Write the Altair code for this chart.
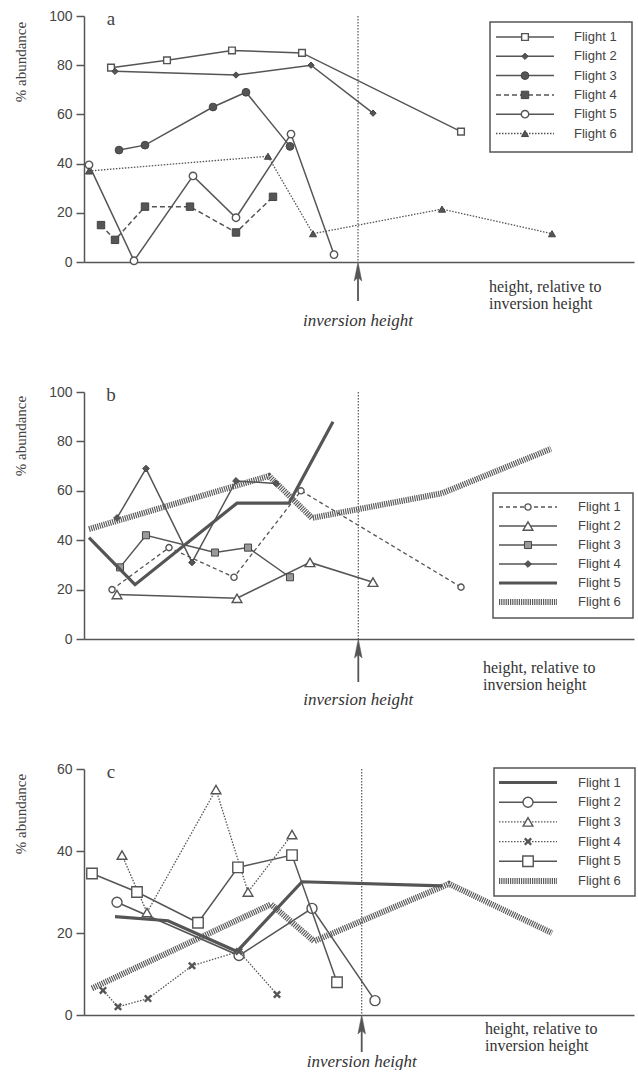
import altair as alt
import pandas as pd

# ---------------- data (x = position along height axis, y = % abundance) ----------------
# Panel a
A_F1_X = [27, 83, 148, 218, 377]
A_F1_Y = [79, 82, 86, 85, 53]
A_F2_X = [31, 152, 227, 289]
A_F2_Y = [77.5, 76, 80, 60.5]
A_F3_X = [35, 61, 129, 162, 206]
A_F3_Y = [45.5, 47.5, 63, 69, 47]
A_F4_X = [17, 31, 61, 106, 152, 189]
A_F4_Y = [15, 9, 22.5, 22.5, 12, 26.5]
A_F5_X = [5, 50, 109, 152, 207, 250]
A_F5_Y = [39.5, 0.5, 35, 18, 52, 3]
A_F6_X = [5, 184, 229, 358, 468]
A_F6_Y = [37, 43, 11.5, 21.5, 11.5]

# Panel b
B_F1_X = [28, 85, 150, 217, 377]
B_F1_Y = [20, 37, 25, 60, 21]
B_F2_X = [33, 153, 226, 289]
B_F2_Y = [18, 16.5, 31, 23]
B_F3_X = [36, 62, 131, 164, 206]
B_F3_Y = [29, 42, 35, 37, 25]
B_F4_X = [33, 62, 108, 152, 192]
B_F4_Y = [49, 69, 31, 64, 63]
B_F5_X = [5, 51, 153, 205, 249]
B_F5_Y = [41, 22, 55, 55, 88]
B_F6_X = [5, 185, 228, 358, 467]
B_F6_Y = [44.5, 66, 49, 59, 77]

# Panel c
C_F1_X = [31, 84, 153, 218, 358]
C_F1_Y = [24, 23, 15.5, 32.5, 31.5]
C_F2_X = [33, 155, 228, 291]
C_F2_Y = [27.5, 14.5, 26, 3.5]
C_F3_X = [38, 63, 132, 164, 208]
C_F3_Y = [39, 25, 55, 30, 44]
C_F4_X = [19, 34, 64, 108, 155, 193]
C_F4_Y = [6, 2, 4, 12, 15.5, 5]
C_F5_X = [8, 53, 114, 154, 208, 253]
C_F5_Y = [34.5, 30, 22.5, 36, 39, 8]
C_F6_X = [8, 187, 230, 365, 468]
C_F6_Y = [6.5, 27, 18, 32, 20]

INVERSION = {"a": 274, "b": 274.3, "c": 277.7}
FLIGHTS = ["Flight 1", "Flight 2", "Flight 3", "Flight 4", "Flight 5", "Flight 6"]

# ---------------- styles ----------------
INK = "#555555"
SERIF = "Liberation Serif"
SANS = "Liberation Sans"
W = 550
XPATH = "M-1,-1L1,1M1,-1L-1,1"
ARROW = "M0,-1L0.38,0.9L0,0.55L-0.38,0.9Z"

thin = dict(lw=1.5)
thick = dict(lw=3.2)
hatch = dict(lw=6, dash=[1.2, 1.0], color="#5a5a5a")

STYLE_A = [
    dict(thin, shape="square", size=45, fill="open"),
    dict(thin, shape="diamond", size=40, fill=INK),
    dict(thin, shape="circle", size=60, fill=INK),
    dict(thin, dash=[5, 3], shape="square", size=55, fill=INK),
    dict(thin, shape="circle", size=55, fill="open"),
    dict(thin, lw=1.3, dash=[1.5, 1.5], shape="triangle-up", size=50, fill=INK),
]
STYLE_B = [
    dict(thin, lw=1.3, dash=[4, 3], shape="circle", size=38, fill="open"),
    dict(thin, shape="triangle-up", size=95, fill="open"),
    dict(thin, shape="square", size=50, fill="#999999"),
    dict(thin, shape="diamond", size=45, fill=INK),
    dict(thick),
    dict(hatch),
]
STYLE_C = [
    dict(thick),
    dict(thin, shape="circle", size=100, fill="open"),
    dict(thin, lw=1.3, dash=[1.5, 1.5], shape="triangle-up", size=95, fill="open"),
    dict(thin, lw=1.3, dash=[1.5, 1.5], shape=XPATH, size=40, fill="line"),
    dict(thin, shape="square", size=110, fill="open"),
    dict(hatch),
]


def point_kw(st):
    kw = dict(shape=st["shape"], size=st["size"], opacity=1, strokeWidth=1.4)
    if st["fill"] == "open":
        kw.update(filled=True, fill="white", stroke=INK)
    elif st["fill"] == "line":
        kw.update(filled=False, stroke=INK, strokeWidth=2.4)
    else:
        kw.update(filled=True, fill=st["fill"], stroke="#444444", strokeWidth=1)
    return kw


def line_kw(st):
    kw = dict(color=st.get("color", INK), strokeWidth=st["lw"])
    if st.get("dash"):
        kw["strokeDash"] = st["dash"]
    return kw


def one(**cols):
    return pd.DataFrame({k: [v] for k, v in cols.items()})


def panel(letter, series, styles, ymax, h, legend, texts, title_y):
    inv = INVERSION[letter]
    x_enc = alt.X("x:Q", scale=alt.Scale(domain=[0, W], nice=False, zero=False),
                  axis=alt.Axis(labels=False, ticks=False, title=None, grid=False,
                                domainColor=INK, domainWidth=1.5))
    y_enc = alt.Y("y:Q", scale=alt.Scale(domain=[0, ymax], nice=False),
                  axis=alt.Axis(values=list(range(0, ymax + 1, 20)), title=None, grid=False,
                                domainColor=INK, domainWidth=1.5, tickColor=INK, tickWidth=1.5,
                                tickSize=8, labelPadding=4, labelColor="#444444",
                                labelFont=SANS, labelFontSize=14))
    layers = []
    invdf = one(x=inv)
    layers.append(alt.Chart(invdf).mark_rule(color=INK, strokeWidth=1.2, strokeDash=[1.5, 1.5])
                  .encode(x=x_enc, y=alt.value(0), y2=alt.value(h)))
    for (xs, ys), st in zip(series, styles):
        df = pd.DataFrame({"x": xs, "y": ys})
        layers.append(alt.Chart(df).mark_line(**line_kw(st)).encode(x=x_enc, y=y_enc))
        if st.get("shape"):
            layers.append(alt.Chart(df).mark_point(**point_kw(st)).encode(x=x_enc, y=y_enc))

    # arrow + texts below axis
    arrow_len, l1, l2, lit, tx = texts
    layers.append(alt.Chart(invdf).mark_rule(color=INK, strokeWidth=1.8)
                  .encode(x=x_enc, y=alt.value(h + 12), y2=alt.value(h + arrow_len)))
    layers.append(alt.Chart(invdf).mark_point(shape=ARROW, size=400, filled=True, fill=INK,
                                              stroke=INK, strokeWidth=0.5, opacity=1)
                  .encode(x=x_enc, y=alt.value(h + 10)))
    layers.append(alt.Chart(one(t="inversion height", x=inv))
                  .mark_text(font=SERIF, fontStyle="italic", fontSize=17, color="#333333",
                             align="center", baseline="middle")
                  .encode(x=x_enc, y=alt.value(h + lit), text="t:N"))
    for txt, dy in (("height, relative to", l1), ("inversion height", l2)):
        layers.append(alt.Chart(one(t=txt))
                      .mark_text(font=SERIF, fontSize=16, color="#333333", align="left",
                                 baseline="middle")
                      .encode(x=alt.value(tx), y=alt.value(h + dy), text="t:N"))
    # y title and panel letter
    layers.append(alt.Chart(one(t="% abundance"))
                  .mark_text(font=SERIF, fontSize=15, color="#444444", angle=270,
                             align="center", baseline="middle")
                  .encode(x=alt.value(-63), y=alt.value(title_y), text="t:N"))
    layers.append(alt.Chart(one(t=letter))
                  .mark_text(font=SERIF, fontSize=19, color="#444444", align="center",
                             baseline="middle")
                  .encode(x=alt.value(27), y=alt.value(3), text="t:N"))

    # legend
    bx0, bx1, by0, by1, row0, step, lx0, lx1, tx0 = legend
    layers.append(alt.Chart(one(k=0)).mark_rect(fill="white", stroke=INK, strokeWidth=1.5)
                  .encode(x=alt.value(bx0), x2=alt.value(bx1), y=alt.value(by0), y2=alt.value(by1)))
    for i, (name, st) in enumerate(zip(FLIGHTS, styles)):
        ry = row0 + step * i
        lab = one(t=name)
        layers.append(alt.Chart(lab).mark_rule(**line_kw(st))
                      .encode(x=alt.value(lx0), x2=alt.value(lx1), y=alt.value(ry)))
        if st.get("shape"):
            layers.append(alt.Chart(lab).mark_point(**point_kw(st))
                          .encode(x=alt.value((lx0 + lx1) / 2), y=alt.value(ry)))
        layers.append(alt.Chart(lab).mark_text(font=SANS, fontSize=13, color="#444444",
                                               align="left", baseline="middle")
                      .encode(x=alt.value(tx0), y=alt.value(ry), text="t:N"))
    return alt.layer(*layers).properties(width=W, height=h)


pa = panel("a",
           [(A_F1_X, A_F1_Y), (A_F2_X, A_F2_Y), (A_F3_X, A_F3_Y),
            (A_F4_X, A_F4_Y), (A_F5_X, A_F5_Y), (A_F6_X, A_F6_Y)],
           STYLE_A, 100, 246,
           (406, 548, 6, 136, 21, 19.3, 412, 470, 490),
           (39, 25, 42, 59, 405), 46)
pb = panel("b",
           [(B_F1_X, B_F1_Y), (B_F2_X, B_F2_Y), (B_F3_X, B_F3_Y),
            (B_F4_X, B_F4_Y), (B_F5_X, B_F5_Y), (B_F6_X, B_F6_Y)],
           STYLE_B, 100, 247,
           (409, 549, 101, 226, 115, 19, 415, 473, 494),
           (43, 29, 46, 61, 399), 44)
pc = panel("c",
           [(C_F1_X, C_F1_Y), (C_F2_X, C_F2_Y), (C_F3_X, C_F3_Y),
            (C_F4_X, C_F4_Y), (C_F5_X, C_F5_Y), (C_F6_X, C_F6_Y)],
           STYLE_C, 60, 246,
           (410, 551, -1, 127, 13.5, 19.7, 415, 473, 494),
           (37, 14, 31, 47, 401), 45)

chart = alt.vconcat(pa, pb, pc, spacing=130, bounds="flush").properties(
    padding={"left": 14, "top": 9, "right": 0, "bottom": 0},
    background="white",
).configure_view(stroke=None)

chart.save("out.html", embed_options={"renderer": "svg", "actions": False})
